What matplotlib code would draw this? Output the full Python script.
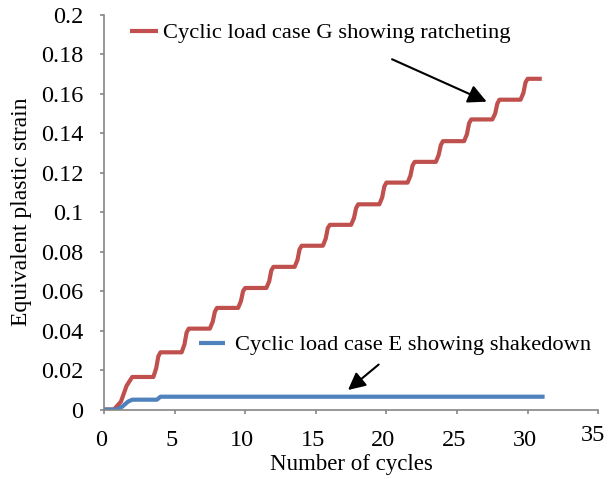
import matplotlib
matplotlib.use("Agg")
import matplotlib.pyplot as plt
from matplotlib.transforms import ScaledTranslation

# Case G: ratcheting (red)
red_x = [0, 0.7, 1.2, 1.6, 2.0,
         3.5, 3.7, 3.85, 4.0,
         5.5, 5.7, 5.85, 6.0,
         7.5, 7.7, 7.85, 8.0,
         9.5, 9.7, 9.85, 10.0,
         11.5, 11.7, 11.85, 12.0,
         13.5, 13.7, 13.85, 14.0,
         15.5, 15.7, 15.85, 16.0,
         17.5, 17.7, 17.85, 18.0,
         19.5, 19.7, 19.85, 20.0,
         21.5, 21.7, 21.85, 22.0,
         23.5, 23.7, 23.85, 24.0,
         25.5, 25.7, 25.85, 26.0,
         27.5, 27.7, 27.85, 28.0,
         29.5, 29.7, 29.85, 30.0,
         31.0]
red_y = [0, 0, 0.004, 0.012, 0.0165,
         0.0165, 0.021, 0.027, 0.029,
         0.029, 0.033, 0.039, 0.041,
         0.041, 0.0445, 0.0495, 0.0515,
         0.0515, 0.055, 0.060, 0.0616,
         0.0616, 0.065, 0.0705, 0.0723,
         0.0723, 0.0758, 0.0812, 0.083,
         0.083, 0.0866, 0.092, 0.0936,
         0.0936, 0.097, 0.102, 0.104,
         0.104, 0.1075, 0.113, 0.115,
         0.115, 0.1185, 0.1237, 0.1255,
         0.1255, 0.129, 0.134, 0.136,
         0.136, 0.1395, 0.145, 0.147,
         0.147, 0.150, 0.155, 0.157,
         0.157, 0.1605, 0.1658, 0.1676,
         0.1676]

# Case E: shakedown (blue)
blue_x = [0, 0.9, 1.3, 1.7, 2.0, 3.75, 4.0, 31.2]
blue_y = [0, 0, 0.0015, 0.004, 0.005, 0.005, 0.0065, 0.0065]

x_ticks = [0, 5, 10, 15, 20, 25, 30, 35]
y_ticks = [0, 0.02, 0.04, 0.06, 0.08, 0.1, 0.12, 0.14, 0.16, 0.18, 0.2]
y_labels = ["0", "0.02", "0.04", "0.06", "0.08", "0.1", "0.12", "0.14", "0.16", "0.18", "0.2"]

red = "#C0504D"
blue = "#4F81BD"
grey = "#868686"

plt.rcParams['font.family'] = ['Liberation Serif', 'DejaVu Serif']
plt.rcParams['font.size'] = 16

fig = plt.figure(figsize=(6.08, 4.79), dpi=100)
ax = fig.add_axes([0.171, 0.145, 0.813, 0.824])

ax.plot(red_x, red_y, color=red, lw=3, solid_capstyle='butt', solid_joinstyle='round')
ax.plot(blue_x, blue_y, color=blue, lw=3, solid_capstyle='butt', solid_joinstyle='round')

ax.set_xlim(0, 35)
ax.set_ylim(0, 0.2)
ax.set_xticks(x_ticks)
ax.set_yticks(y_ticks)
ax.set_yticklabels(y_labels)

for s in ['top', 'right']:
    ax.spines[s].set_visible(False)
for s in ['left', 'bottom']:
    ax.spines[s].set_color(grey)
    ax.spines[s].set_linewidth(1.2)
ax.tick_params(axis='both', colors=grey, labelcolor='black', length=3, width=1.2,
               direction='out', labelsize=17.5)
ax.tick_params(axis='y', pad=12)
ax.tick_params(axis='x', pad=12)

# x labels sit a little left of their ticks, and 35 a bit higher, as in the original
labels = ax.get_xticklabels()
for lbl in labels[:-1]:
    lbl.set_transform(lbl.get_transform() + ScaledTranslation(-3 / 100, 0, fig.dpi_scale_trans))
labels[-1].set_transform(labels[-1].get_transform()
                         + ScaledTranslation(-5 / 100, 5 / 100, fig.dpi_scale_trans))

ax.set_xlabel("Number of cycles", fontsize=16.5, labelpad=2)
ax.set_ylabel("Equivalent plastic strain", fontsize=17, labelpad=6)

# legend-like labels inside the plot
ax.plot([1.85, 3.84], [0.192, 0.192], color=red, lw=3, solid_capstyle='butt', clip_on=False)
ax.text(4.2, 0.1905, "Cyclic load case G showing ratcheting", va='center', ha='left',
        fontsize=16.2)
ax.plot([6.7, 8.6], [0.0337, 0.0337], color=blue, lw=3, solid_capstyle='butt')
ax.text(9.3, 0.0327, "Cyclic load case E showing shakedown", va='center', ha='left',
        fontsize=16.2)

ax.annotate("", xy=(27.1, 0.156), xytext=(20.4, 0.1775),
            arrowprops=dict(arrowstyle='-|>', color='black', lw=1.5, mutation_scale=28,
                            shrinkA=0, shrinkB=0))
ax.annotate("", xy=(17.28, 0.0099), xytext=(19.45, 0.0228),
            arrowprops=dict(arrowstyle='-|>', color='black', lw=1.5, mutation_scale=26,
                            shrinkA=0, shrinkB=0))

fig.savefig("out.png", dpi=100)
